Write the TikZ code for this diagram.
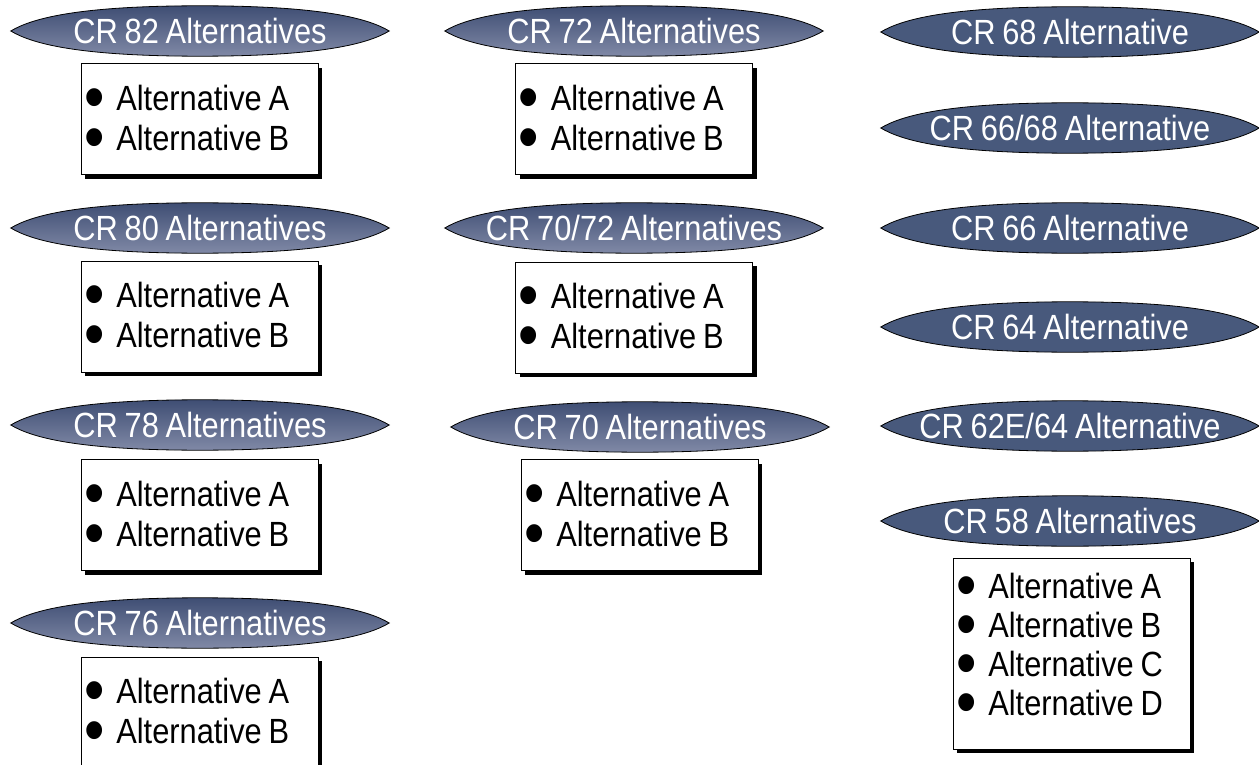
\documentclass[tikz,border=0pt]{standalone}
\usepackage{fontspec}
\setmainfont{Liberation Sans}
\newfontfamily\altfont[FakeStretch=0.88, WordSpace=0.8]{Liberation Sans}
\usetikzlibrary{shadows,backgrounds}

\definecolor{lensdark}{HTML}{3F4E74}
\definecolor{lenslight}{HTML}{8089A6}
\definecolor{lensflat}{HTML}{48597C}
\newcommand{\bul}{\raisebox{-9pt}[0pt][0pt]{\fontsize{66}{40}\selectfont\char"2022}\hspace{12pt}}

\begin{document}
\begin{tikzpicture}[x=1pt,y=-1pt]

      \tikzset{title/.style={inner sep=0pt, minimum width=378pt, minimum height=50pt, text height=25pt, text depth=0pt, text=white, font=\altfont\fontsize{35}{40}\selectfont},
        altbox/.style={draw, line width=1pt, fill=white, minimum width=237pt, minimum height=111pt, text width=231pt, inner xsep=3pt, align=flush left, text height=26pt, text depth=44pt, font=\altfont\fontsize{35}{40}\selectfont, drop shadow={shadow xshift=4pt, shadow yshift=-4pt, fill=black, opacity=1}},
        lens/.style={insert path={(#1.west) .. controls +(20,-12) and +(-125,0) .. (#1.north) .. controls +(125,0) and +(-20,-12) .. (#1.east) .. controls +(-20,12) and +(125,0) .. (#1.south) .. controls +(-125,0) and +(20,12) .. (#1.west) -- cycle}},
        shadedlens/.style={draw=black, line width=0.8pt, top color=lensdark, bottom color=lenslight},
        flatlens/.style={draw=black, line width=0.8pt, fill=lensflat}}

      \useasboundingbox (0,0) rectangle (1259,765);
%% Titles
      	\node[title] (cr82) at (200,31) {CR 82 Alternatives};
      	\node[title] (cr80) at (200,228) {CR 80 Alternatives};
      	\node[title] (cr78) at (200,425) {CR 78 Alternatives};
      	\node[title] (cr76) at (200,623) {CR 76 Alternatives};
      	\node[title] (cr72) at (634,31) {CR 72 Alternatives};
      	\node[title] (cr7072) at (634,228) {CR 70/72 Alternatives};
      	\node[title] (cr70) at (640,427) {CR 70 Alternatives};
      	\node[title] (cr68) at (1070,32) {CR 68 Alternative};
      	\node[title] (cr6668) at (1070,128) {CR 66/68 Alternative};
      	\node[title] (cr66) at (1070,228) {CR 66 Alternative};
      	\node[title] (cr64) at (1070,327) {CR 64 Alternative};
      	\node[title] (cr6264) at (1070,426) {CR 62E/64 Alternative};
      	\node[title] (cr58) at (1070,521) {CR 58 Alternatives};
%% Boxes
      	\node[altbox] (box82) at (199.5,119.5) {\bul Alternative A\\\bul Alternative B};
      	\node[altbox] (box80) at (199.5,316.5) {\bul Alternative A\\\bul Alternative B};
      	\node[altbox] (box78) at (199.5,515) {\bul Alternative A\\\bul Alternative B};
      	\node[altbox] (box76) at (199.5,712.5) {\bul Alternative A\\\bul Alternative B};
      	\node[altbox] (box72) at (634,119.5) {\bul Alternative A\\\bul Alternative B};
      	\node[altbox] (box7072) at (634,317.5) {\bul Alternative A\\\bul Alternative B};
      	\node[altbox] (box70) at (639.5,515) {\bul Alternative A\\\bul Alternative B};
      	\node[altbox, minimum height=191pt, text depth=137pt, font=\altfont\fontsize{35}{39}\selectfont] (box58) at (1071.5,653.5) {\bul Alternative A\\\bul Alternative B\\\bul Alternative C\\\bul Alternative D};
%Lenses
      \begin{scope}[on background layer]
		\path[shadedlens, lens=cr82];
		\path[shadedlens, lens=cr80];
		\path[shadedlens, lens=cr78];
		\path[shadedlens, lens=cr76];
		\path[shadedlens, lens=cr72];
		\path[shadedlens, lens=cr7072];
		\path[shadedlens, lens=cr70];
		\path[flatlens, lens=cr68];
		\path[flatlens, lens=cr6668];
		\path[flatlens, lens=cr66];
		\path[flatlens, lens=cr64];
		\path[flatlens, lens=cr6264];
		\path[flatlens, lens=cr58];
      \end{scope}

	\end{tikzpicture}
\end{document}
